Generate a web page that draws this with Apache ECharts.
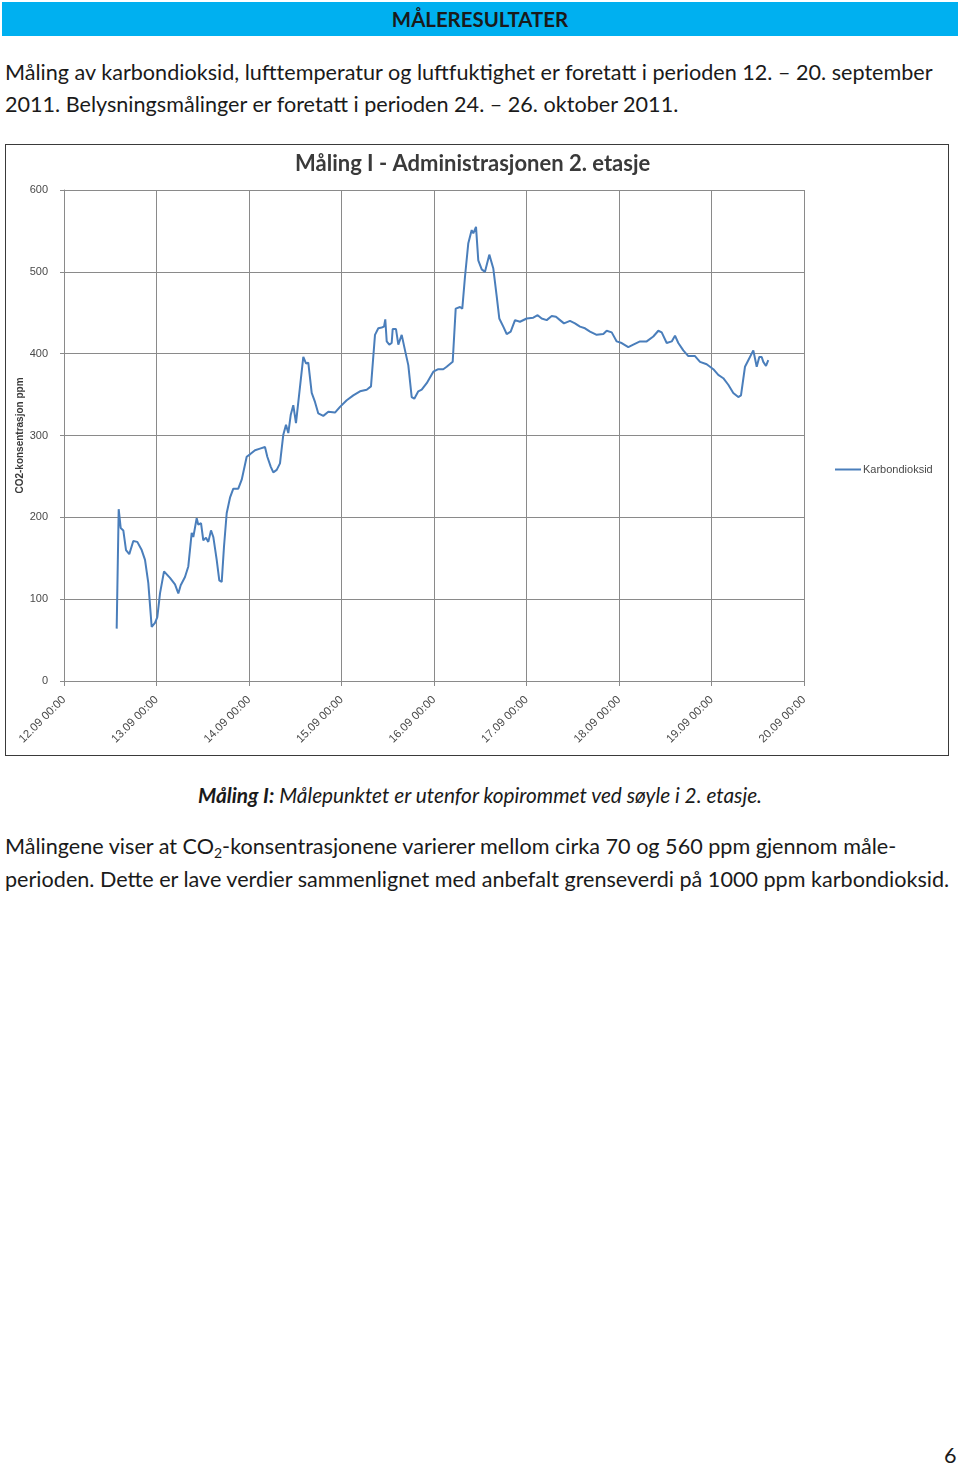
<!DOCTYPE html>
<html>
<head>
<meta charset="utf-8">
<script src="https://cdn.jsdelivr.net/npm/echarts@6/dist/echarts.min.js"></script>
<style>
  html, body { margin: 0; padding: 0; background: #fff; }
  body { width: 960px; height: 1467px; position: relative; font-family: Lato, "Open Sans", sans-serif; color: #1a1a1a; overflow: hidden; }
  .bar { position: absolute; left: 2px; top: 2px; width: 956px; height: 34px; background: #00b0f0; text-align: center; line-height: 34px; font-weight: bold; font-size: 20.4px; }
  .txt { position: absolute; left: 5px; font-size: 21.6px; white-space: nowrap; }
  #chartBox { position: absolute; left: 5px; top: 144px; width: 942px; height: 610px; border: 1px solid #3a3a3a; }
  #chart { width: 942px; height: 610px; }
  .cap { position: absolute; left: 0; width: 960px; text-align: center; font-style: italic; font-size: 20.8px; line-height: 32px; top: 779px; }
  sub { font-size: 14px; vertical-align: -4px; line-height: 0; }
</style>
</head>
<body>
<div class="bar">MÅLERESULTATER</div>
<div class="txt" style="top:56px; line-height:32px;">Måling av karbondioksid, lufttemperatur og luftfuktighet er foretatt i perioden 12. – 20. september<br>2011. Belysningsmålinger er foretatt i perioden 24. – 26. oktober 2011.</div>
<div id="chartBox"><div id="chart"></div></div>
<div class="cap"><b>Måling I:</b> Målepunktet er utenfor kopirommet ved søyle i 2. etasje.</div>
<div class="txt" style="top:830px; line-height:33px;">Målingene viser at CO<sub>2</sub>-konsentrasjonene varierer mellom cirka 70 og 560 ppm gjennom måle-<br>perioden. Dette er lave verdier sammenlignet med anbefalt grenseverdi på 1000 ppm karbondioksid.</div>
<div class="txt" style="top:1440px; left:944px; line-height:30px;">6</div>
<script>
// Hours since 12.09 00:00
const hours = [13.67,14.19,14.71,15.39,16.09,16.94,17.98,19.02,20.16,21.02,21.87,22.75,23.61,24.21,24.91,25.95,26.46,27.50,28.80,29.66,30.28,31.39,32.25,33.13,33.55,34.43,34.85,35.55,36.14,36.84,37.44,38.14,38.74,39.62,40.29,40.92,41.51,42.21,43.07,43.93,45.22,46.11,47.40,48.26,49.56,50.85,52.15,52.75,53.63,54.30,55.19,56.04,56.90,57.60,58.20,58.82,59.49,60.19,62.09,62.79,63.38,64.27,65.12,65.98,67.28,68.58,70.31,71.61,73.35,75.06,76.80,78.54,79.65,80.69,81.55,82.43,83.03,83.36,83.73,84.40,85.02,85.28,86.14,86.74,87.62,88.48,89.33,90.21,90.89,91.93,92.81,94.11,95.82,97.11,98.41,99.29,100.85,101.63,102.75,103.34,104.04,104.90,105.78,106.20,106.90,107.49,108.38,109.23,110.35,111.39,112.27,112.94,113.98,114.86,115.90,117.02,118.31,120.05,121.76,122.90,123.94,125.24,126.54,127.65,128.69,129.73,131.28,132.58,133.88,135.18,136.48,138.21,139.93,140.81,142.11,143.40,144.70,146.41,147.71,149.45,151.19,152.90,154.20,155.08,156.38,157.68,158.53,159.39,160.68,161.98,163.72,165.02,166.75,168.47,169.76,171.06,172.36,173.65,174.95,175.65,176.69,177.55,177.99,178.85,179.29,179.73,180.40,181.02,181.44,182.14,182.73];
const co2 = [64,210,187,184,160,155,171,170,160,148,120,66,71,78,107,134,133,126,118,107,117,127,140,181,176,199,191,193,172,175,170,184,176,148,123,121,164,205,224,235,235,246,274,277,282,284,286,274,262,255,258,266,301,313,303,325,337,315,396,388,389,352,341,327,324,329,328,335,343,349,354,356,360,423,431,432,433,442,415,411,413,430,430,411,423,404,386,347,345,354,356,364,378,381,381,384,390,455,457,455,494,535,551,547,555,514,503,500,521,504,470,443,433,424,427,441,439,443,444,447,443,441,446,445,441,437,440,437,433,431,427,423,424,428,426,415,413,408,411,415,415,421,428,426,413,415,422,413,404,397,397,390,387,381,374,370,362,352,347,349,384,392,390,404,402,384,396,396,390,385,392];
const xTickLabels = ['12.09 00:00','13.09 00:00','14.09 00:00','15.09 00:00','16.09 00:00','17.09 00:00','18.09 00:00','19.09 00:00','20.09 00:00'];
const chartTitle = 'Måling I - Administrasjonen 2. etasje';
const yAxisTitle = 'CO2-konsentrasjon ppm';
const seriesName = 'Karbondioksid';

const points = hours.map((h, i) => [h, co2[i]]);
const chart = echarts.init(document.getElementById('chart'), null, { renderer: 'canvas' });
const gridColor = '#8a8a8a';
const labelFont = { fontFamily: '"Liberation Sans", Arial, sans-serif', fontSize: 11, color: '#4a4a4a' };
chart.setOption({
  animation: false,
  backgroundColor: '#fff',
  title: {
    text: chartTitle, left: 284, top: 3,
    textStyle: { fontFamily: 'Lato, "Open Sans", sans-serif', fontWeight: 'bold', fontSize: 22, color: '#3a3a3a' }
  },
  legend: {
    data: [seriesName], left: 824, top: 314, itemWidth: 26, itemHeight: 2, itemGap: 4,
    icon: 'rect',
    textStyle: Object.assign({}, labelFont, { padding: [0, 0, 0, -3] })
  },
  grid: { left: 58, top: 45, width: 740, height: 491, containLabel: false, outerBoundsMode: 'none' },
  xAxis: {
    type: 'value', min: 0, max: 192, interval: 24,
    axisLine: { show: true, lineStyle: { color: gridColor, width: 1 } },
    axisTick: { show: true, length: 5, lineStyle: { color: gridColor } },
    splitLine: { show: true, lineStyle: { color: gridColor, width: 1 } },
    axisLabel: Object.assign({ rotate: 45, margin: 17, formatter: v => xTickLabels[Math.round(v / 24)], showMaxLabel: true, showMinLabel: true }, labelFont, { fontSize: 11.5 })
  },
  yAxis: {
    type: 'value', min: 0, max: 600, interval: 100,
    name: yAxisTitle, nameLocation: 'middle', nameGap: 39, nameRotate: 90, nameMoveOverlap: false,
    nameTextStyle: { fontFamily: '"Liberation Sans", Arial, sans-serif', fontSize: 10, fontWeight: 'bold', color: '#3a3a3a' },
    axisLine: { show: true, lineStyle: { color: gridColor, width: 1 } },
    axisTick: { show: true, length: 4, lineStyle: { color: gridColor } },
    splitLine: { show: true, lineStyle: { color: gridColor, width: 1 } },
    axisLabel: Object.assign({ margin: 16 }, labelFont)
  },
  series: [{
    name: seriesName, type: 'line', data: points, symbol: 'none', showSymbol: false,
    lineStyle: { color: '#4a7ebb', width: 2 }, itemStyle: { color: '#4a7ebb' }
  }]
});
</script>
</body>
</html>
